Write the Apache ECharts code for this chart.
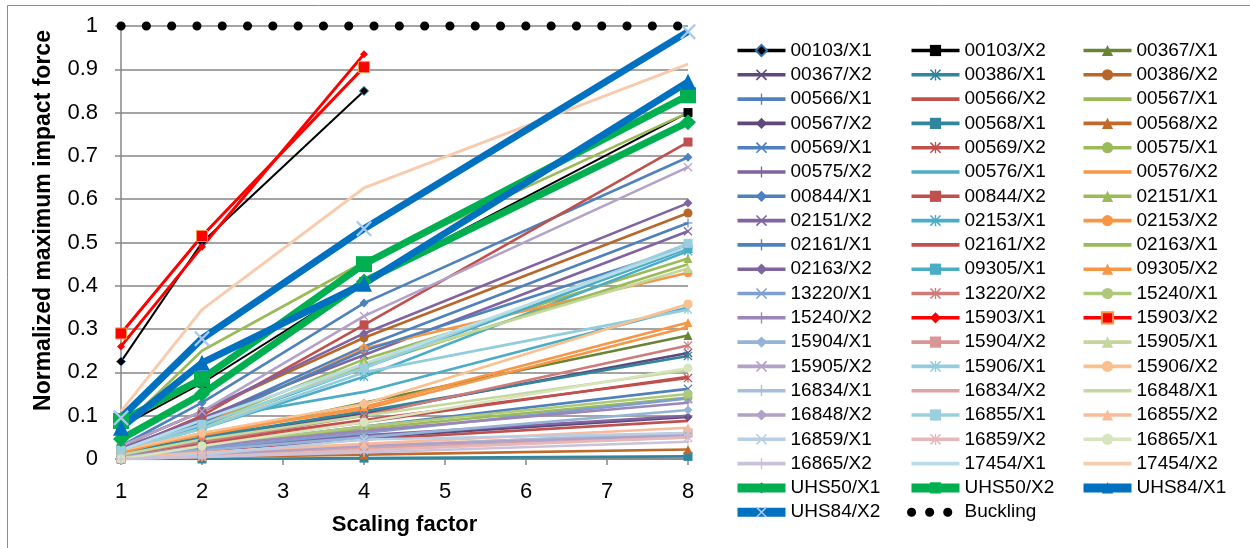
<!DOCTYPE html>
<html>
<head>
<meta charset="utf-8">
<script src="https://cdn.jsdelivr.net/npm/echarts@6/dist/echarts.min.js"></script>
<style>
  html, body { margin: 0; padding: 0; background: #fff; }
  #impactChart { width: 1250px; height: 548px; }
</style>
</head>
<body>
<div id="impactChart"></div>
<script>
// x positions of the runs
const scaling = [1, 2, 4, 8];
const xTicks = [1, 2, 3, 4, 5, 6, 7, 8];

const seriesNames = [
  '00103/X1', '00103/X2', '00367/X1', '00367/X2', '00386/X1', '00386/X2',
  '00566/X1', '00566/X2', '00567/X1', '00567/X2', '00568/X1', '00568/X2',
  '00569/X1', '00569/X2', '00575/X1', '00575/X2', '00576/X1', '00576/X2',
  '00844/X1', '00844/X2', '02151/X1', '02151/X2', '02153/X1', '02153/X2',
  '02161/X1', '02161/X2', '02163/X1', '02163/X2', '09305/X1', '09305/X2',
  '13220/X1', '13220/X2', '15240/X1', '15240/X2', '15903/X1', '15903/X2',
  '15904/X1', '15904/X2', '15905/X1', '15905/X2', '15906/X1', '15906/X2',
  '16834/X1', '16834/X2', '16848/X1', '16848/X2', '16855/X1', '16855/X2',
  '16859/X1', '16859/X2', '16865/X1', '16865/X2', '17454/X1', '17454/X2',
  'UHS50/X1', 'UHS50/X2', 'UHS84/X1', 'UHS84/X2'
];

// normalized maximum impact force at scaling 1, 2, 4, 8 (null = no run)
const forceRows = [
  [0.225, 0.50, 0.85, null],
  [0.075, 0.175, 0.41, 0.80],
  [0.01, 0.05, 0.13, 0.285],
  [0.01, 0.045, 0.105, 0.245],
  [0.015, 0.05, 0.11, 0.238],
  [0.03, 0.11, 0.28, 0.568],
  [0.02, 0.09, 0.26, 0.545],
  [0.005, 0.02, 0.045, 0.088],
  [0.07, 0.25, 0.455, 0.80],
  [0.005, 0.02, 0.05, 0.097],
  [0, 0, 0.002, 0.006],
  [0, 0.005, 0.01, 0.022],
  [0.005, 0.03, 0.075, 0.162],
  [0.01, 0.04, 0.09, 0.187],
  [0.005, 0.03, 0.07, 0.142],
  [0.005, 0.025, 0.055, 0.10],
  [0.02, 0.09, 0.155, 0.35],
  [0.015, 0.06, 0.115, 0.305],
  [0.03, 0.13, 0.36, 0.697],
  [0.02, 0.10, 0.31, 0.732],
  [0.02, 0.08, 0.23, 0.463],
  [0.025, 0.095, 0.24, 0.526],
  [0.02, 0.07, 0.19, 0.48],
  [0.02, 0.08, 0.255, 0.43],
  [0.02, 0.085, 0.25, 0.49],
  [0.01, 0.035, 0.085, 0.19],
  [0.02, 0.075, 0.215, 0.45],
  [0.03, 0.11, 0.29, 0.591],
  [0.02, 0.075, 0.21, 0.486],
  [0.02, 0.055, 0.12, 0.315],
  [0.005, 0.025, 0.06, 0.14],
  [0.01, 0.04, 0.10, 0.262],
  [0.005, 0.03, 0.075, 0.15],
  [0.005, 0.03, 0.065, 0.13],
  [0.26, 0.49, 0.935, null],
  [0.29, 0.515, 0.905, null],
  [0.005, 0.02, 0.05, 0.113],
  [0.002, 0.01, 0.03, 0.06],
  [0.02, 0.07, 0.22, 0.44],
  [0.03, 0.11, 0.33, 0.674],
  [0.02, 0.07, 0.20, 0.345],
  [0.02, 0.06, 0.127, 0.358],
  [0.002, 0.01, 0.03, 0.06],
  [0.002, 0.01, 0.025, 0.05],
  [0.01, 0.045, 0.10, 0.205],
  [0.002, 0.01, 0.03, 0.055],
  [0.02, 0.08, 0.21, 0.498],
  [0.003, 0.015, 0.035, 0.072],
  [0, 0.01, 0.045, 0.06],
  [0, 0.005, 0.02, 0.05],
  [0, 0.03, 0.085, 0.21],
  [0, 0.005, 0.015, 0.04],
  [0.02, 0.09, 0.22, 0.49],
  [0.11, 0.345, 0.626, 0.912],
  [0.046, 0.15, 0.41, 0.778],
  [0.088, 0.185, 0.45, 0.84],
  [0.072, 0.222, 0.405, 0.871],
  [0.095, 0.278, 0.532, 0.987]
];

const bucklingLevel = [1, 1, 1, 1];

const seriesColors = [
  '#000000', '#000000', '#6a8435', '#5f497a', '#31859c', '#b8672a',
  '#4f81bd', '#c0504d', '#9bbb59', '#5f497a', '#31859c', '#c0692a',
  '#4f81bd', '#c0504d', '#9bbb59', '#8064a2', '#4bacc6', '#f79646',
  '#4f81bd', '#c0504d', '#9bbb59', '#8064a2', '#4bacc6', '#f79646',
  '#4f81bd', '#c0504d', '#9bbb59', '#8064a2', '#4bacc6', '#f79646',
  '#7f9fd3', '#cf7b79', '#afc97a', '#9b86b8', '#ff0000', '#ff0000',
  '#95b3d7', '#d99694', '#c3d69b', '#b3a2c7', '#93cddd', '#fac090',
  '#a7bfde', '#dca3a1', '#c5d8a0', '#b0a1c6', '#9ccfde', '#f9bb99',
  '#b9cde5', '#e6b9b8', '#d7e4bd', '#ccc1da', '#b7dee8', '#f9cbae',
  '#00b050', '#00b050', '#0070c0', '#0070c0'
];

const xMark = 'path://M0,1L1,0L5,4L9,0L10,1L6,5L10,9L9,10L5,6L1,10L0,9L4,5Z';
const plusMark = 'path://M4.4,0H5.6V4.4H10V5.6H5.6V10H4.4V5.6H0V4.4H4.4Z';
const starMark = 'path://M0,1L1,0L5,4L9,0L10,1L6,5L10,9L9,10L5,6L1,10L0,9L4,5Z M4.4,0H5.6V10H4.4Z';
// excel marker cycle
const markerCycle = ['diamond', 'rect', 'triangle', xMark, starMark, 'circle', plusMark, 'none', 'none'];

const font = '"Liberation Sans", Arial, sans-serif';
const gridColor = '#868686';

function markerOf(i) {
  if (i === 34) return 'diamond';
  if (i === 35) return 'rect';
  return markerCycle[i % 9];
}

function widthOf(i) {
  if (i >= 54) return 7;
  if (i <= 1) return 2;
  if (i === 34 || i === 35 || i === 53) return 3;
  return 2.6;
}

function sizeOf(i) {
  if (i >= 54) return 16;
  if (i === 34) return 8;
  if (i === 35) return 11;
  return 9;
}

let series = seriesNames.map((name, i) => {
  let pts = [];
  forceRows[i].forEach((v, j) => { if (v !== null) pts.push([scaling[j], v]); });
  let s = {
    name: name,
    type: 'line',
    data: pts,
    symbol: markerOf(i),
    symbolSize: sizeOf(i),
    color: seriesColors[i],
    lineStyle: { width: widthOf(i), color: seriesColors[i] },
    itemStyle: { color: seriesColors[i] },
    z: 2
  };
  if (i === 0) s.itemStyle = { color: '#000', borderColor: '#3a6ea5', borderWidth: 1 };
  if (i === 35) s.itemStyle = { color: '#ff0000', borderColor: '#f79646', borderWidth: 1 };
  if (i === 57) s.itemStyle = { color: '#a9c8ec' };
  return s;
});

series.push({
  name: 'Buckling',
  type: 'line',
  data: scaling.map((x, j) => [x, bucklingLevel[j]]),
  symbol: 'none',
  clip: false,
  color: '#000',
  lineStyle: { color: '#000', width: 9, type: [0.1, 25.2], cap: 'round' },
  z: 3
});

const allNames = seriesNames.concat(['Buckling']);
const legendLeft = [728, 902, 1074];

function legendItem(n) {
  if (n === 'Buckling') {
    return {
      name: n,
      itemStyle: { opacity: 0 },
      lineStyle: { width: 9, type: [0.1, 18], cap: 'round' }
    };
  }
  let i = seriesNames.indexOf(n);
  let item = { name: n, lineStyle: { width: i >= 54 ? 9 : 3.6 } };
  if (markerOf(i) === 'none') {
    // plain line, no marker in the key
    item.itemStyle = { opacity: 0, color: 'rgba(0,0,0,0)', borderWidth: 0 };
  }
  return item;
}

let myChart = echarts.init(document.getElementById('impactChart'));
let option = {
  animation: false,
  backgroundColor: '#fff',
  textStyle: { fontFamily: font },
  graphic: [{
    type: 'rect',
    shape: { x: 7.5, y: 5.5, width: 1260, height: 600 },
    style: { fill: 'none', stroke: '#8c8c8c', lineWidth: 1 },
    silent: true
  }],
  grid: { left: 121, right: 562, top: 26, bottom: 89 },
  legend: legendLeft.map((left, col) => ({
    orient: 'vertical',
    left: left,
    top: 36,
    height: 505,
    itemWidth: 48,
    itemHeight: 14,
    itemGap: 5.3,
    selectedMode: false,
    textStyle: { fontSize: 19, color: '#000', fontFamily: font },
    data: allNames.filter((n, i) => i % 3 === col).map(legendItem)
  })),
  xAxis: {
    type: 'value',
    min: xTicks[0],
    max: xTicks[xTicks.length - 1],
    interval: 1,
    name: 'Scaling factor',
    nameLocation: 'middle',
    nameGap: 55,
    nameTextStyle: { fontSize: 22, fontWeight: 'bold', color: '#000', fontFamily: font },
    axisLine: { show: true, lineStyle: { color: gridColor, width: 1.5 } },
    axisTick: { show: true, length: 6, lineStyle: { color: gridColor, width: 1.5 } },
    splitLine: { show: false },
    axisLabel: { fontSize: 22, color: '#000', margin: 22, fontFamily: font }
  },
  yAxis: {
    type: 'value',
    min: 0,
    max: 1,
    interval: 0.1,
    name: 'Normalized maximum impact force',
    nameLocation: 'middle',
    nameGap: 66,
    nameTextStyle: { fontSize: 23, fontWeight: 'bold', color: '#000', fontFamily: font, padding: [0, 0, 0, 44] },
    axisLine: { show: true, lineStyle: { color: gridColor, width: 1.5 } },
    axisTick: { show: true, length: 6, lineStyle: { color: gridColor, width: 1.5 } },
    splitLine: { show: true, lineStyle: { color: gridColor, width: 1.5 } },
    axisLabel: { fontSize: 22, color: '#000', margin: 23, fontFamily: font }
  },
  series: series
};

myChart.setOption(option);
</script>
</body>
</html>
